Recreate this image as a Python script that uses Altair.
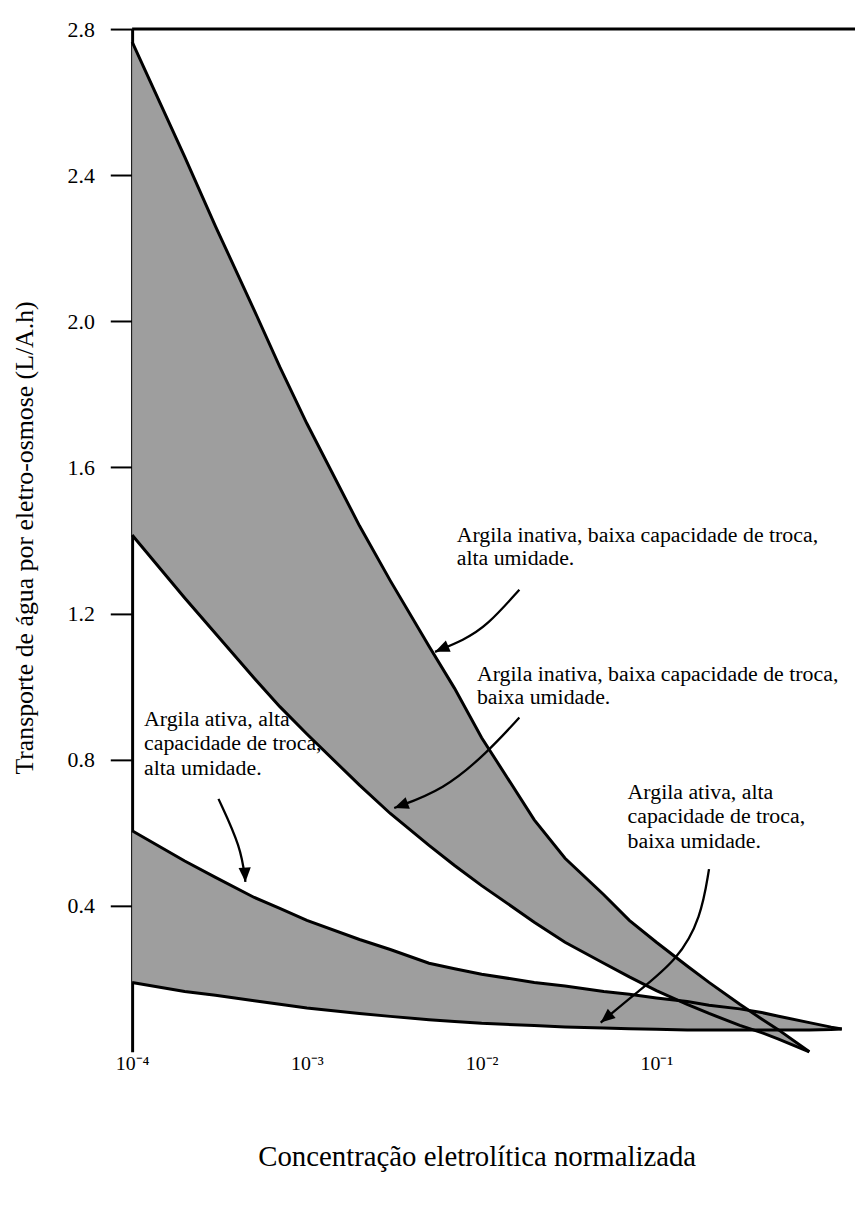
import altair as alt
import pandas as pd

FONT = "Times New Roman, Liberation Serif, serif"
GRAY = "#9e9e9e"

# ---- data ----
X_INACT = [1e-4, 2e-4, 3e-4, 5e-4, 7e-4, 1e-3, 2e-3, 3e-3, 5e-3, 7e-3, 1e-2, 2e-2,
           3e-2, 5e-2, 7e-2, 0.1, 0.15, 0.2, 0.3, 0.4, 0.5, 0.75]
INACT_HIGH = [2.765, 2.45, 2.26, 2.03, 1.875, 1.72, 1.44, 1.29, 1.11, 0.995, 0.86, 0.635,
              0.53, 0.43, 0.36, 0.30, 0.235, 0.19, 0.13, 0.09, 0.06, 0.0]
INACT_LOW = [1.415, 1.2425, 1.145, 1.0225, 0.945, 0.87, 0.73, 0.6525, 0.565, 0.51, 0.455, 0.355,
             0.30, 0.2425, 0.205, 0.1675, 0.13, 0.105, 0.0725, 0.0525, 0.035, 0.0]

X_ACT = [1e-4, 2e-4, 3e-4, 5e-4, 7e-4, 1e-3, 2e-3, 3e-3, 5e-3, 7e-3, 1e-2, 2e-2,
         3e-2, 5e-2, 7e-2, 0.1, 0.15, 0.2, 0.3, 0.4, 0.5, 0.75, 1.0, 1.15]
ACT_HIGH = [0.605, 0.5225, 0.4775, 0.4225, 0.3925, 0.36, 0.3075, 0.28, 0.2425, 0.2275, 0.2125, 0.19,
            0.18, 0.165, 0.1575, 0.1475, 0.1375, 0.1275, 0.1175, 0.1075, 0.0975, 0.08, 0.0675, 0.0625]
ACT_LOW = [0.19, 0.165, 0.155, 0.14, 0.13, 0.12, 0.105, 0.097, 0.088, 0.083, 0.078, 0.072,
           0.068, 0.065, 0.063, 0.062, 0.06, 0.06, 0.06, 0.06, 0.06, 0.06, 0.061, 0.0625]

# arrows (x, y) paths, last point = tip
ARROW_ID = ["a1"] * 4 + ["a2"] * 4 + ["a3"] * 3 + ["a4"] * 5
ARROW_X = [0.01644, 0.01067, 7.9e-3, 5.41e-3,
           0.01644, 0.01067, 6.08e-3, 3.16e-3,
           3.12e-4, 4.2e-4, 4.45e-4,
           0.2, 0.18, 0.133, 0.076, 0.048]
ARROW_Y = [1.265, 1.165, 1.1275, 1.095,
           0.915, 0.8175, 0.7175, 0.6675,
           0.6925, 0.56, 0.465,
           0.5, 0.3675, 0.2525, 0.16, 0.08]
HEAD_ANGLE = {"a1": 247, "a2": 250, "a3": 177, "a4": 230}

LABEL_TEXT = [
    "Argila inativa, baixa capacidade de troca,", "alta umidade.",
    "Argila inativa, baixa capacidade de troca,", "baixa umidade.",
    "Argila ativa, alta", "capacidade de troca,", "alta umidade.",
    "Argila ativa, alta", "capacidade de troca,", "baixa umidade.",
]
LABEL_X = [7.2e-3, 7.2e-3, 9.4e-3, 9.4e-3, 1.17e-4, 1.17e-4, 1.17e-4, 0.0684, 0.0684, 0.0684]
LABEL_Y = [1.415, 1.352, 1.035, 0.972, 0.91, 0.845, 0.778, 0.712, 0.645, 0.578]

Y_TICKS = [0.4, 0.8, 1.2, 1.6, 2.0, 2.4, 2.8]
X_TICKS = [1e-4, 1e-3, 1e-2, 1e-1]

W, H = 728, 1030
XMAX = 10 ** (-4 + W / 176)

inact = pd.DataFrame({"x": X_INACT, "hi": INACT_HIGH, "lo": INACT_LOW})
act = pd.DataFrame({"x": X_ACT, "hi": ACT_HIGH, "lo": ACT_LOW})
arrows = pd.DataFrame({"id": ARROW_ID, "x": ARROW_X, "y": ARROW_Y})
arrows["i"] = range(len(arrows))
heads = arrows.groupby("id").tail(1).copy()
heads["angle"] = heads["id"].map(HEAD_ANGLE)
labels = pd.DataFrame({"t": LABEL_TEXT, "x": LABEL_X, "y": LABEL_Y})

xscale = alt.Scale(type="log", domain=[1e-4, XMAX], nice=False)
yscale = alt.Scale(domain=[0, 2.8], nice=False, zero=False)

label_expr = ("datum.value < 5e-4 ? '10⁻⁴' : datum.value < 5e-3 ? '10⁻³' : "
              "datum.value < 5e-2 ? '10⁻²' : '10⁻¹'")

xaxis = alt.Axis(values=X_TICKS, labelExpr=label_expr, ticks=False, domain=False, grid=False,
                 labelFlush=False, labelFont=FONT, labelFontSize=20, labelColor="black",
                 labelPadding=2,
                 title="Concentração eletrolítica normalizada", titleFont=FONT,
                 titleFontSize=29, titleFontWeight="normal", titleColor="black",
                 titleBaseline="middle", titleAlign="center", titleY=105, titleX=347)
yaxis = alt.Axis(values=Y_TICKS, format=".1f", grid=False, domainColor="black",
                 domainWidth=3, tickColor="black", tickWidth=2, tickSize=22,
                 labelFont=FONT, labelFontSize=22, labelColor="black", labelPadding=16,
                 title="Transporte de água por eletro-osmose (L/A.h)", titleFont=FONT,
                 titleFontSize=26, titleFontWeight="normal", titleColor="black",
                 titleAngle=270, titleBaseline="middle", titleAlign="center",
                 titleX=-108, titleY=512)

base_i = alt.Chart(inact)
base_a = alt.Chart(act)

fill_i = base_i.mark_area(color=GRAY, opacity=1).encode(
    x=alt.X("x:Q", scale=xscale, axis=xaxis),
    y=alt.Y("hi:Q", scale=yscale, axis=yaxis),
    y2="lo:Q")
fill_a = base_a.mark_area(color=GRAY, opacity=1).encode(
    x=alt.X("x:Q", scale=xscale), y=alt.Y("hi:Q", scale=yscale), y2="lo:Q")

def edge(base, col):
    return base.mark_line(color="black", strokeWidth=3).encode(
        x=alt.X("x:Q", scale=xscale), y=alt.Y(f"{col}:Q", scale=yscale))

arrow_lines = alt.Chart(arrows).mark_line(color="black", strokeWidth=2.3,
                                          interpolate="basis").encode(
    x=alt.X("x:Q", scale=xscale), y=alt.Y("y:Q", scale=yscale),
    detail="id:N", order="i:Q")
arrow_heads = alt.Chart(heads).mark_point(
    shape="M0,0L-0.85,2L0.85,2Z", filled=True, color="black", opacity=1, size=210).encode(
    x=alt.X("x:Q", scale=xscale), y=alt.Y("y:Q", scale=yscale),
    angle=alt.Angle("angle:Q", scale=None))

texts = alt.Chart(labels).mark_text(font=FONT, fontSize=22, align="left",
                                    baseline="middle", color="black").encode(
    x=alt.X("x:Q", scale=xscale), y=alt.Y("y:Q", scale=yscale), text="t:N")

top = alt.Chart(pd.DataFrame({"y": [2.8]})).mark_rule(color="black", strokeWidth=3).encode(
    y=alt.Y("y:Q", scale=yscale), x=alt.value(0), x2=alt.value(W))

chart = alt.layer(
    fill_i, fill_a,
    edge(base_i, "hi"), edge(base_i, "lo"), edge(base_a, "hi"), edge(base_a, "lo"),
    arrow_lines, arrow_heads, texts, top,
).properties(
    width=W, height=H, autosize=alt.AutoSizeParams(type="none"),
    padding={"left": 125, "top": 17, "right": 0, "bottom": 140},
    background="white",
).configure_view(stroke=None)

chart.save("out.html", embed_options={"renderer": "svg", "actions": False})
